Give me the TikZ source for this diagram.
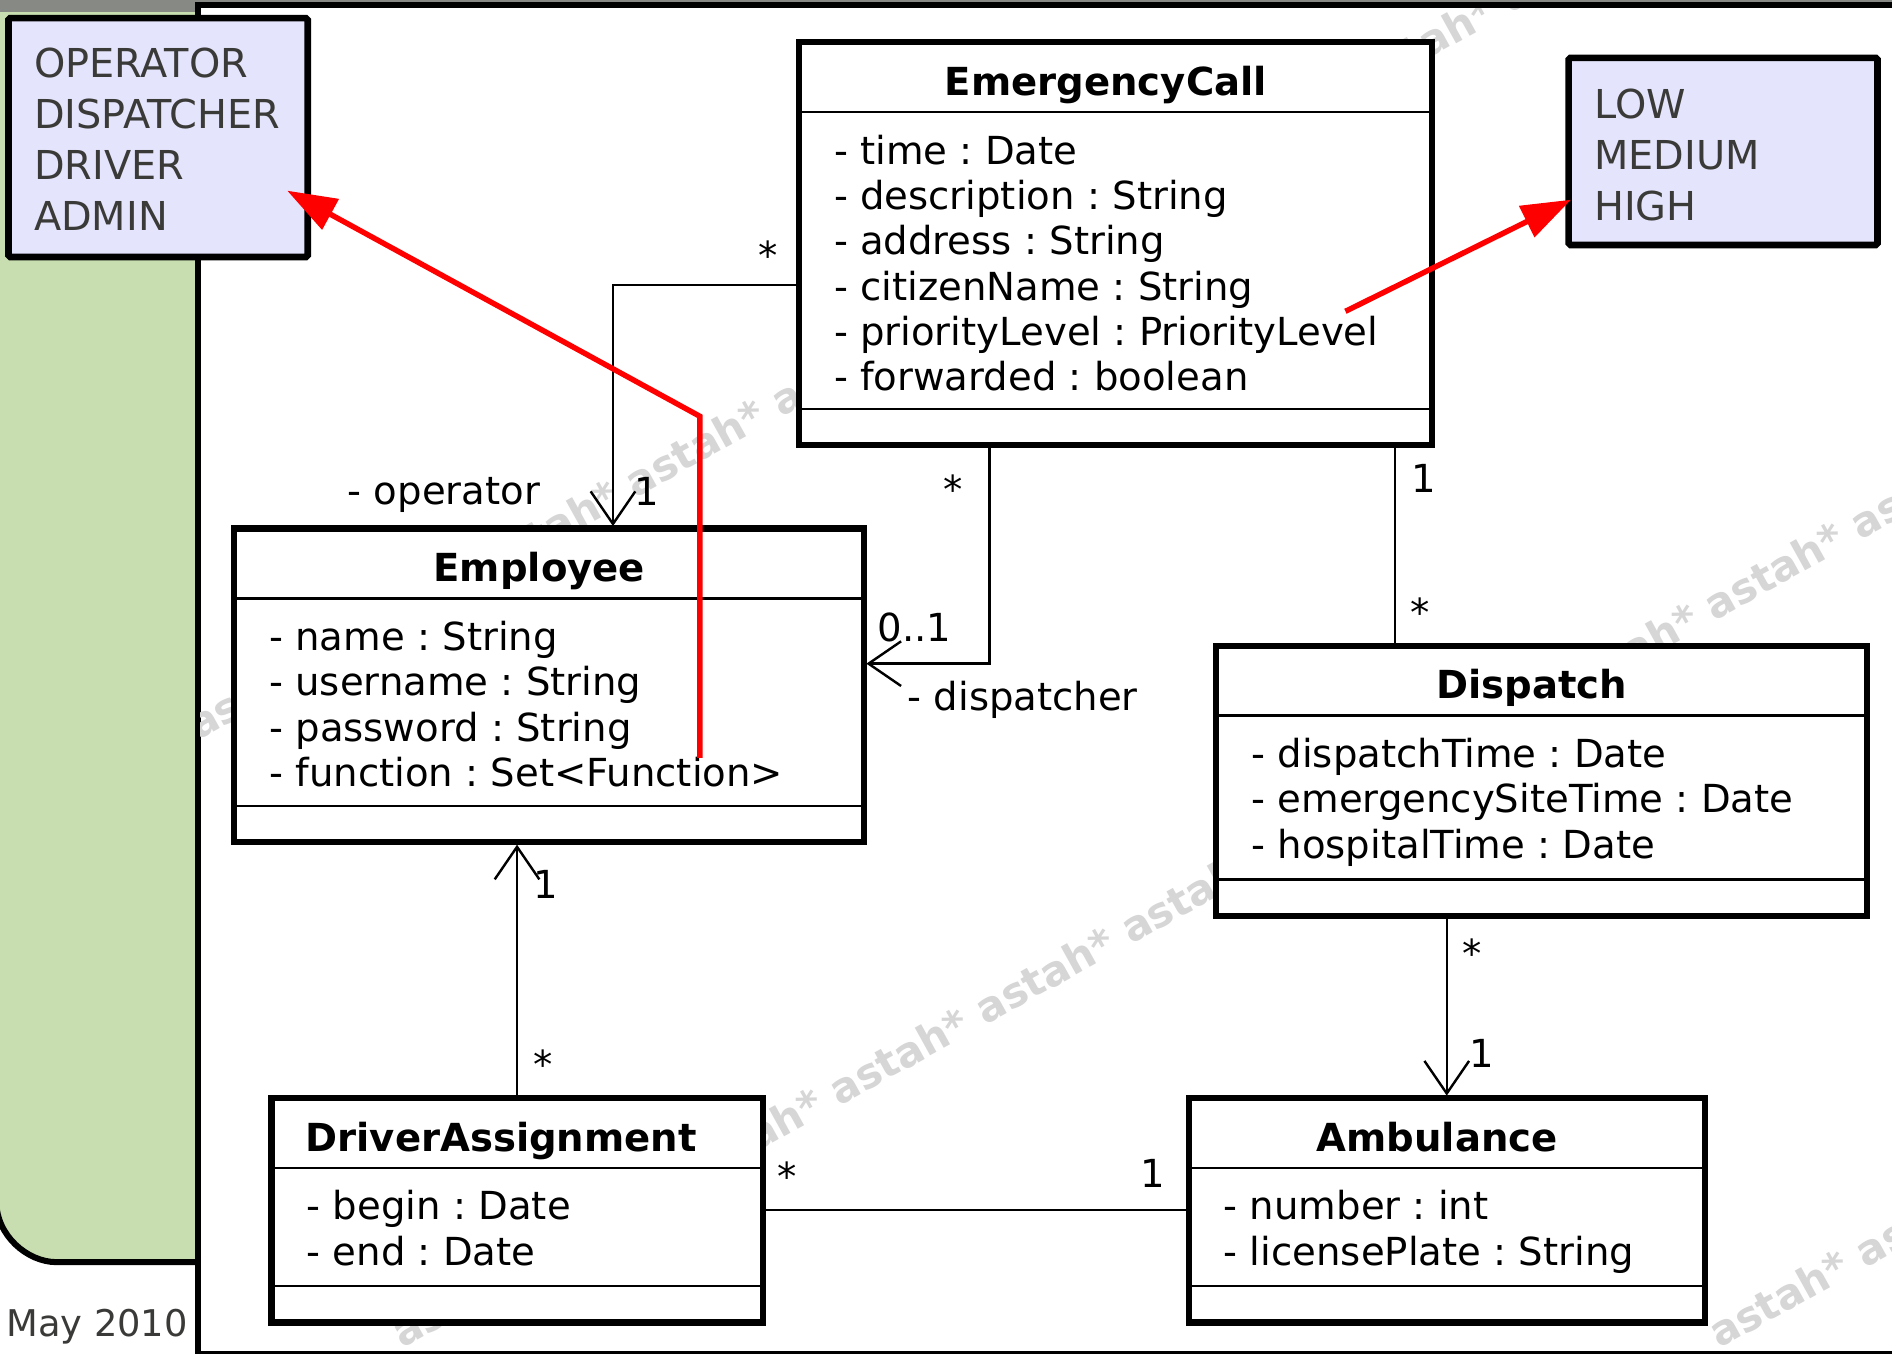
\documentclass[tikz,border=0pt]{standalone}
\usepackage{fontspec}
\setmainfont{DejaVu Sans}
\usepackage{tikz}
\usetikzlibrary{arrows.meta,positioning,calc}
\frenchspacing

\definecolor{rolefill}{RGB}{228,228,252}
\definecolor{slidegreen}{RGB}{200,222,176}
\definecolor{bargray}{RGB}{135,137,132}
\definecolor{darktext}{RGB}{58,58,56}
\definecolor{wmgray}{RGB}{214,214,214}
\newcommand{\astahline}{astah* astah* astah* astah* astah* astah* astah* astah* astah* astah* astah* astah*}

\begin{document}
\begin{tikzpicture}[x=1pt,y=-1pt]
\tikzstyle{cls}=[draw, line width=5pt, fill=white, inner sep=0pt, outer sep=0pt]
\tikzstyle{sep}=[line width=2pt]
\tikzstyle{ttl}=[font=\fontsize{32}{38}\selectfont\bfseries, anchor=base, inner sep=0pt]
\tikzstyle{attr}=[font=\fontsize{32}{38}\selectfont, anchor=base west, inner sep=0pt]
\tikzstyle{mult}=[font=\fontsize{32}{38}\selectfont, anchor=base, inner sep=0pt]
\tikzstyle{assoc}=[line width=2pt]
\tikzstyle{nav}=[assoc, shorten >=2pt, -{Straight Barb[length=27pt,width=37pt,line width=2pt]}]
\tikzstyle{role}=[draw, line width=5.5pt, fill=rolefill, rounded corners=1.5pt, inner sep=0pt, outer sep=0pt]
\tikzstyle{roletxt}=[font=\fontsize{33}{42}\selectfont, text=darktext, anchor=base west, inner sep=0pt]
\tikzstyle{hint}=[draw=red, line width=4.5pt, -{Triangle[length=41pt,width=28pt]}]
\tikzstyle{wm}=[font=\fontsize{34.5}{40}\selectfont\bfseries, text=wmgray, inner sep=0pt, anchor=base west, rotate=29]

\useasboundingbox (0,0) rectangle (1568,1122);

% slide background
\fill[bargray] (0,0) rectangle (1568,10);
\fill[slidegreen] (-3,10) -- (200,10) -- (200,1046) -- (47,1046) .. controls (22.4,1046) and (-3,1023.6) .. (-3,996) -- cycle;
\draw[line width=5pt] (-3,996) .. controls (-3,1023.6) and (22.4,1046) .. (47,1046) -- (200,1046);
\draw[line width=5pt, fill=white] (164,4.5) rectangle (1580,1122);

% watermark
\begin{scope}
\clip (166.5,7) rectangle (1568,1119.5);
\foreach \x/\y [count=\k] in {333/1118, 164/614, 1425/1118}{
\node[wm] (wm\k) at (\x,\y) {\astahline};
}
\end{scope}

% classes
\node[cls, minimum width=525pt, minimum height=334pt] (call) at (924.5,202) {};
\node[cls, minimum width=522pt, minimum height=260pt] (emp) at (455,568) {};
\node[cls, minimum width=539pt, minimum height=224pt] (disp) at (1277.5,647) {};
\node[cls, minimum width=407pt, minimum height=186pt] (drv) at (428.5,1003) {};
\node[cls, minimum width=428pt, minimum height=186pt] (amb) at (1199,1003) {};
\foreach \c in {call,emp,disp,drv,amb}{
\draw[sep] ([yshift=-58pt]\c.north west) -- ([yshift=-58pt]\c.north east);
\draw[sep] ([yshift=30pt]\c.south west) -- ([yshift=30pt]\c.south east);
}

\node[ttl] (callT) at ([xshift=-8pt,yshift=-44pt]call.north) {EmergencyCall};
\node[ttl] (empT) at ([xshift=-8pt,yshift=-44pt]emp.north) {Employee};
\node[ttl] (dispT) at ([xshift=-8pt,yshift=-44pt]disp.north) {Dispatch};
\node[ttl, anchor=base west] (drvT) at ([xshift=28pt,yshift=-44pt]drv.north west) {DriverAssignment};
\node[ttl] (ambT) at ([xshift=-8pt,yshift=-44pt]amb.north) {Ambulance};

\foreach \t [count=\i, evaluate=\i as \dy using -101-37.6*(\i-1)] in {- time : Date, - description : String, - address : String, - citizenName : String, - priorityLevel : PriorityLevel, - forwarded : boolean}
\node[attr] (call-a\i) at ([xshift=29pt,yshift=\dy pt]call.north west) {\t};
\foreach \t [count=\i, evaluate=\i as \dy using -101-37.6*(\i-1)] in {- name : String, - username : String, - password : String, - function : Set<Function>}
\node[attr] (emp-a\i) at ([xshift=29pt,yshift=\dy pt]emp.north west) {\t};
\foreach \t [count=\i, evaluate=\i as \dy using -101-37.6*(\i-1)] in {- dispatchTime : Date, - emergencySiteTime : Date, - hospitalTime : Date}
\node[attr] (disp-a\i) at ([xshift=29pt,yshift=\dy pt]disp.north west) {\t};
\foreach \t [count=\i, evaluate=\i as \dy using -101-37.6*(\i-1)] in {- begin : Date, - end : Date}
\node[attr] (drv-a\i) at ([xshift=29pt,yshift=\dy pt]drv.north west) {\t};
\foreach \t [count=\i, evaluate=\i as \dy using -101-37.6*(\i-1)] in {- number : int, - licensePlate : String}
\node[attr] (amb-a\i) at ([xshift=29pt,yshift=\dy pt]amb.north west) {\t};

% associations
\draw[nav] ([yshift=-34pt]call.west) -| ([xshift=53pt]emp.north);
\draw[nav] ([xshift=-104.5pt]call.south) |- ([yshift=18pt]emp.east);
\draw[assoc] ([xshift=-121.5pt]disp.north) -- ([xshift=-121.5pt]disp.north |- call.south);
\draw[nav] (amb.north |- disp.south) -- (amb.north);
\draw[nav] (drv.north) -- (drv.north |- emp.south);
\draw[assoc] (drv.east) -- (amb.west);

\node[mult] (m1) at (637,223) {*};
\node[mult, anchor=base west] (opRole) at (288,418) {- operator};
\node[mult] (m2) at (536,419) {1};
\node[mult] (m3) at (790,417) {*};
\node[mult, anchor=base west] (m4) at (727,532) {0..1};
\node[mult, anchor=base west] (dispRole) at (752,589) {- dispatcher};
\node[mult] (m5) at (1180,408) {1};
\node[mult] (m6) at (1177,519) {*};
\node[mult] (m7) at (1220,802) {*};
\node[mult] (m8) at (1228,885) {1};
\node[mult] (m9) at (452,745) {1};
\node[mult] (m10) at (450,894) {*};
\node[mult] (m11) at (652,987) {*};
\node[mult] (m12) at (955,984) {1};

% enum notes
\node[role, minimum width=248pt, minimum height=198pt] (roles) at (131,114) {};
\node[role, minimum width=256pt, minimum height=155pt] (levels) at (1428,125.5) {};
\foreach \t [count=\i, evaluate=\i as \dy using -49-42.3*(\i-1)] in {OPERATOR,DISPATCHER,DRIVER,ADMIN}
\node[roletxt] (roles-\i) at ([xshift=21pt,yshift=\dy pt]roles.north west) {\t};
\foreach \t [count=\i, evaluate=\i as \dy using -50-42.3*(\i-1)] in {LOW,MEDIUM,HIGH}
\node[roletxt] (levels-\i) at ([xshift=21pt,yshift=\dy pt]levels.north west) {\t};

\node[font=\fontsize{30.5}{36}\selectfont, text=darktext, anchor=base west, inner sep=0pt] (date) at (5,1108) {May 2010};

% red pointers
\coordinate (fnEnd) at (580,628);
\coordinate (fnBend) at (580,345);
\draw[hint] (fnEnd) -- (fnBend) -- ([xshift=-17pt,yshift=-44pt]roles.east);
\coordinate (plStart) at (1115,258);
\draw[hint] (plStart) -- ([xshift=2pt,yshift=-40pt]levels.west);
\end{tikzpicture}
\end{document}
